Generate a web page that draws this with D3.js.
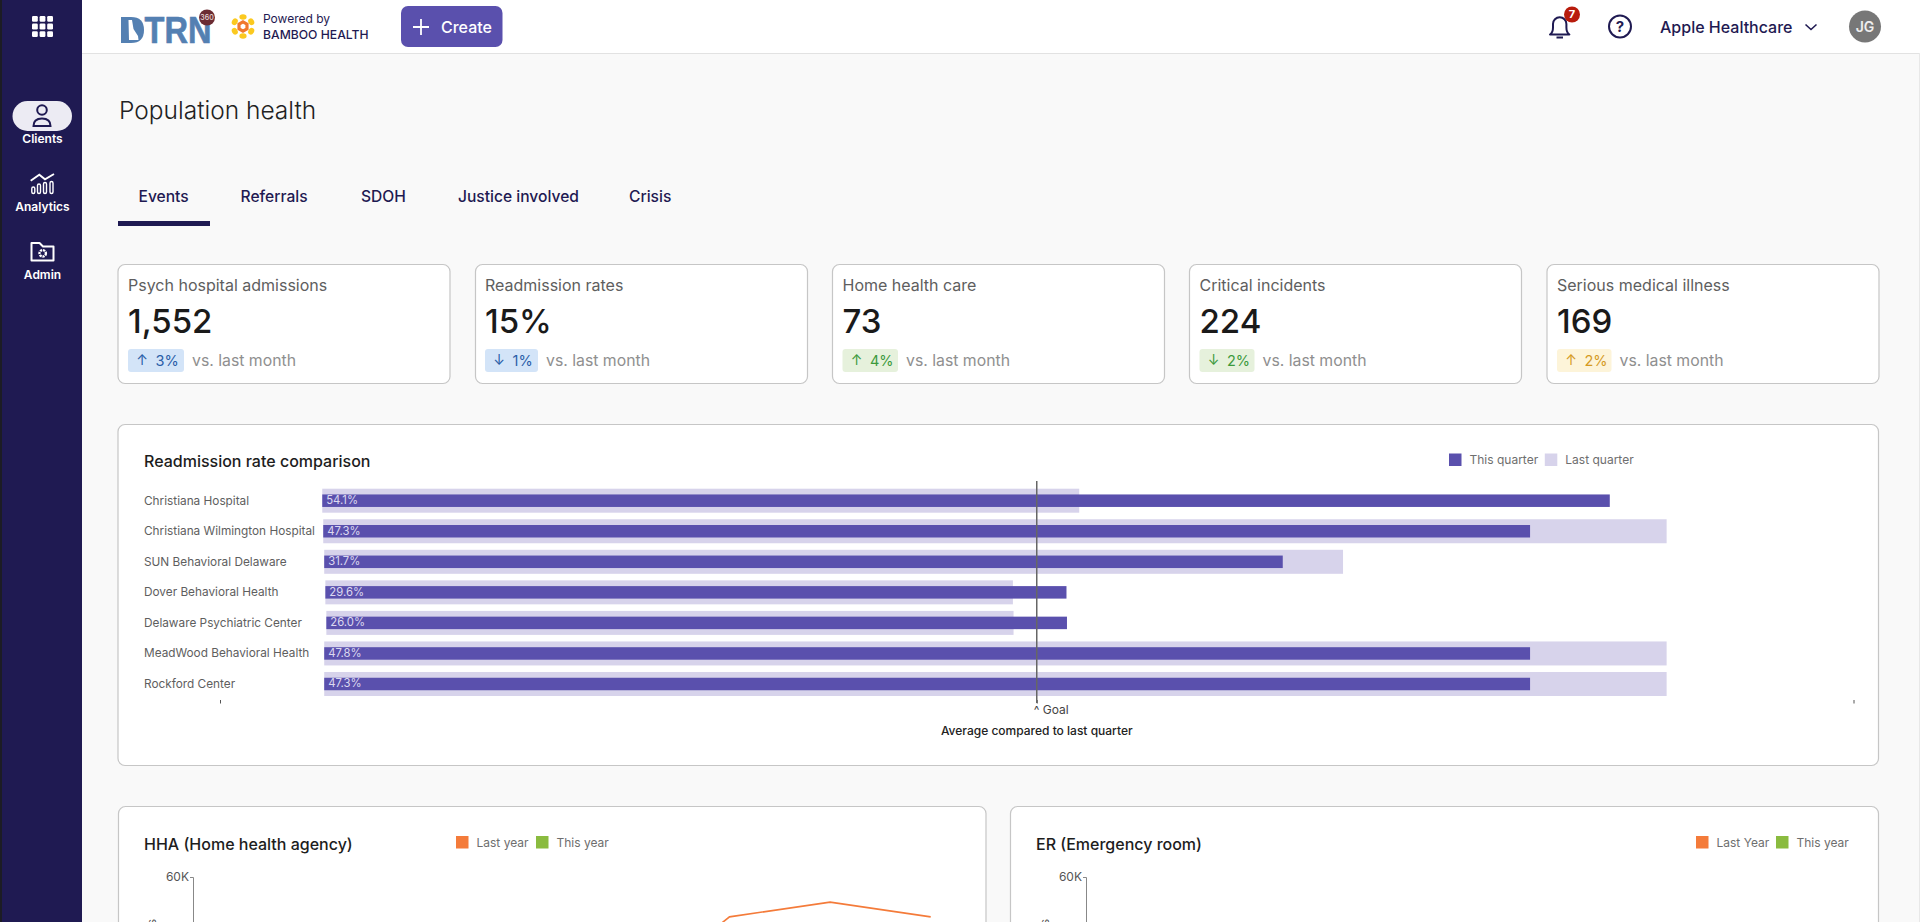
<!DOCTYPE html>
<html>
<head>
<meta charset="utf-8">
<script src="https://cdn.jsdelivr.net/npm/d3@7"></script>
<style>
  html, body { margin: 0; padding: 0; background: #f9f9f9; overflow: hidden; }
  svg { display: block; font-family: Inter, "Noto Sans", sans-serif; }
</style>
</head>
<body>
<div id="page"></div>
<script>
// kpi cards
const kpiTitles = ['Psych hospital admissions', 'Readmission rates', 'Home health care', 'Critical incidents', 'Serious medical illness'];
const kpiValues = ['1,552', '15%', '73', '224', '169'];
const kpiArrows = ['↑', '↓', '↑', '↓', '↑'];
const kpiChanges = ['3%', '1%', '4%', '2%', '2%'];
const kpiTones = ['blue', 'blue', 'green', 'green', 'yellow'];

const tabNames = ['Events', 'Referrals', 'SDOH', 'Justice involved', 'Crisis'];
const navItems = ['Clients', 'Analytics', 'Admin'];

// readmission chart, measured on a 0-100 axis with the goal in the middle
const hospitals = ['Christiana Hospital', 'Christiana Wilmington Hospital', 'SUN Behavioral Delaware', 'Dover Behavioral Health', 'Delaware Psychiatric Center', 'MeadWood Behavioral Health', 'Rockford Center'];
const rateLabels = ['54.1%', '47.3%', '31.7%', '29.6%', '26.0%', '47.8%', '47.3%'];
const barStarts = [6.26, 6.32, 6.38, 6.45, 6.51, 6.38, 6.38];
const thisQuarter = [85.08, 80.2, 65.06, 51.82, 51.85, 80.2, 80.2];
const lastQuarter = [52.6, 88.56, 68.75, 48.54, 48.58, 88.56, 88.56];
const goalValue = 50;
const axisTicks = [0, 50, 100];

// bottom line charts, only the top of them is on screen
const months = ['Jul', 'Aug', 'Sep', 'Oct', 'Nov', 'Dec'];
const hhaLastYear = [null, null, 32300, 50800, 54200, 50800];
const yTicks = [60000];

const navy = '#1f1a52';
const purple = '#5a50ad';
const lilac = '#d7d3eb';
const orange = '#f47b3a';
const green = '#8abb3f';
const logoBlue = '#5480b2';
const tones = {
  blue: { bg: '#d3e4f8', fg: '#2a5ea8' },
  green: { bg: '#e6f1dc', fg: '#3c9a3c' },
  yellow: { bg: '#fdf4d9', fg: '#d59a1f' }
};

const svg = d3.select('#page').append('svg')
  .attr('width', 1920)
  .attr('height', 922);

svg.append('rect').attr('width', 1920).attr('height', 922).attr('fill', '#f9f9f9');

function label(g, x, y, str, size, color, weight = 400, anchor = 'start') {
  return g.append('text')
    .attr('x', x)
    .attr('y', y)
    .attr('dy', '0.35em')
    .attr('font-size', size)
    .attr('font-weight', weight)
    .attr('fill', color)
    .attr('text-anchor', anchor)
    .text(str);
}

function card(x, y, w, h) {
  svg.append('rect')
    .attr('x', x + 0.5).attr('y', y + 0.5)
    .attr('width', w).attr('height', h)
    .attr('rx', 7)
    .attr('fill', '#fff')
    .attr('stroke', '#c6c6c6')
    .attr('stroke-width', 1.2);
}

// ---- header ----
function drawHeader() {
  const g = svg.append('g');
  g.append('rect').attr('x', 82).attr('width', 1838).attr('height', 53).attr('fill', '#fff');
  g.append('line').attr('x1', 82).attr('x2', 1920).attr('y1', 53.5).attr('y2', 53.5).attr('stroke', '#e2e2e2');

  // logo: a solid D with the state cut out of it, then the rest as text
  g.append('path').attr('d', 'M121 17 H131 Q144 17 144 30 Q144 43 131 43 H121 Z').attr('fill', logoBlue);
  g.append('path').attr('d', 'M128.5 20 L132 20 L133.5 29 L138 36 L138.5 40 L129 40 Z').attr('fill', '#fff');
  g.append('text')
    .attr('x', 144.5).attr('y', 43.3)
    .attr('font-family', '"Liberation Sans", sans-serif')
    .attr('font-size', 36).attr('font-weight', 700)
    .attr('fill', logoBlue)
    .attr('stroke', logoBlue).attr('stroke-width', 0.6)
    .attr('textLength', 67).attr('lengthAdjust', 'spacingAndGlyphs')
    .text('TRN');
  g.append('circle').attr('cx', 207).attr('cy', 17.5).attr('r', 8).attr('fill', '#6b2c33');
  label(g, 207, 17.5, '360', 7, '#e8d9d9', 500, 'middle');

  // bamboo mark
  const star = g.append('g').attr('transform', 'translate(243,26.5)');
  d3.range(6).forEach(i => {
    const a = (i * 60 - 90) * Math.PI / 180;
    star.append('ellipse')
      .attr('cx', Math.cos(a) * 9.5).attr('cy', Math.sin(a) * 9.5)
      .attr('rx', 3.6).attr('ry', 2.8)
      .attr('transform', `rotate(${i * 60} ${Math.cos(a) * 9.5} ${Math.sin(a) * 9.5})`)
      .attr('fill', '#fbc91f');
  });
  star.append('path')
    .attr('d', d3.range(6).map(i => {
      const a = (i * 60 - 90) * Math.PI / 180;
      return (i ? 'L' : 'M') + Math.cos(a) * 4.6 + ' ' + Math.sin(a) * 4.6;
    }).join(' ') + 'Z')
    .attr('fill', 'none').attr('stroke', '#f0782e').attr('stroke-width', 3.2);

  label(g, 263, 18.5, 'Powered by', 12, navy);
  label(g, 263, 34.5, 'BAMBOO HEALTH', 12.2, navy, 500);

  // create button
  g.append('rect').attr('x', 401).attr('y', 6).attr('width', 101.5).attr('height', 41).attr('rx', 7).attr('fill', purple);
  g.append('path').attr('d', 'M421 19V35M413 27H429').attr('stroke', '#fff').attr('stroke-width', 1.8);
  label(g, 441, 27, 'Create', 16, '#fff', 500);

  // bell + badge
  g.append('path')
    .attr('d', 'M1550 34.5 q3 -2 3 -7 v-3.5 a6.7 6.7 0 0 1 13.4 0 v3.5 q0 5 3 7 Z M1556.5 37.5 h6.5')
    .attr('fill', 'none').attr('stroke', navy).attr('stroke-width', 2).attr('stroke-linejoin', 'round');
  g.append('circle').attr('cx', 1572).attr('cy', 14.5).attr('r', 8).attr('fill', '#b81c0c');
  label(g, 1572, 14.5, '7', 11, '#fff', 700, 'middle');

  // help
  g.append('circle').attr('cx', 1620).attr('cy', 26.5).attr('r', 11).attr('fill', 'none').attr('stroke', navy).attr('stroke-width', 2);
  label(g, 1620, 26.5, '?', 15, navy, 700, 'middle');

  label(g, 1660, 27, 'Apple Healthcare', 16, navy, 500);
  g.append('path').attr('d', 'M1805.5 24.5l5.5 5 5.5-5').attr('fill', 'none').attr('stroke', navy).attr('stroke-width', 1.6);
  g.append('circle').attr('cx', 1865).attr('cy', 26.5).attr('r', 16).attr('fill', '#777');
  label(g, 1865, 27, 'JG', 14, '#eee', 600, 'middle');
}

// ---- left rail ----
function drawRail() {
  const g = svg.append('g');
  g.append('rect').attr('width', 82).attr('height', 922).attr('fill', navy);
  g.append('rect').attr('width', 2).attr('height', 922).attr('fill', '#1c1c24');

  // app grid
  d3.range(3).forEach(r => d3.range(3).forEach(c => {
    g.append('rect')
      .attr('x', 32 + c * 7.6).attr('y', 16 + r * 7.6)
      .attr('width', 5.8).attr('height', 5.8).attr('rx', 1.2)
      .attr('fill', '#fff');
  }));

  g.append('rect').attr('x', 12.5).attr('y', 101).attr('width', 59.5).attr('height', 30).attr('rx', 15).attr('fill', '#ecebf3');
  g.append('circle').attr('cx', 42).attr('cy', 110).attr('r', 4.8).attr('fill', 'none').attr('stroke', navy).attr('stroke-width', 2);
  g.append('path').attr('d', 'M33.5 126 q0 -7.5 8.5 -7.5 t8.5 7.5 Z').attr('fill', 'none').attr('stroke', navy).attr('stroke-width', 2);

  // analytics glyph
  g.append('path').attr('d', 'M30.7 180.7l8.6-6 5.7 4.6 9-5.3').attr('fill', 'none').attr('stroke', '#fff').attr('stroke-width', 1.9);
  [[33.3, 187], [39, 184], [45, 182.5], [51.5, 181.5]].forEach(([x, top]) => {
    g.append('rect').attr('x', x - 1.5).attr('y', top).attr('width', 3).attr('height', 193.5 - top).attr('rx', 1.5)
      .attr('fill', 'none').attr('stroke', '#fff').attr('stroke-width', 1.4);
  });

  // admin folder with gear
  g.append('path').attr('d', 'M31.5 243 h8 l3.5 3.5 h10.5 v14 h-22 Z').attr('fill', 'none').attr('stroke', '#fff').attr('stroke-width', 2).attr('stroke-linejoin', 'round');
  g.append('circle').attr('cx', 42.7).attr('cy', 253.3).attr('r', 3.2).attr('fill', 'none').attr('stroke', '#fff').attr('stroke-width', 2.4).attr('stroke-dasharray', '2.2 0.8');
  g.append('circle').attr('cx', 42.7).attr('cy', 253.3).attr('r', 1).attr('fill', navy);

  const navY = [139, 207, 274.5];
  navItems.forEach((n, i) => label(g, 42.5, navY[i], n, 12, '#fff', 600, 'middle'));
}

function drawTitle() {
  const g = svg.append('g');
  label(g, 119, 110, 'Population health', 24.5, '#222', 300);
  const tabX = [138.5, 240.5, 361, 458, 629];
  tabNames.forEach((t, i) => label(g, tabX[i], 196.5, t, 15.6, navy, 500));
  g.append('rect').attr('x', 118).attr('y', 221).attr('width', 92).attr('height', 5).attr('fill', navy);
}

function drawKpis() {
  const cardX = [117.5, 475, 832, 1189, 1546.5];
  const badgeX = [128, 485, 842.5, 1199.5, 1557];
  const badgeW = [56, 53, 55.5, 55, 54.5];
  kpiTitles.forEach((t, i) => {
    card(cardX[i], 264, 332, 119);
    const g = svg.append('g');
    const tone = tones[kpiTones[i]];
    label(g, badgeX[i], 285, t, 16, '#5e5e5e');
    label(g, badgeX[i], 321, kpiValues[i], 33, '#1a1a1a', 550);
    g.append('rect').attr('x', badgeX[i]).attr('y', 349).attr('width', badgeW[i]).attr('height', 23).attr('rx', 3).attr('fill', tone.bg);
    label(g, badgeX[i] + 14, 360.5, kpiArrows[i], 14, tone.fg, 400, 'middle');
    label(g, badgeX[i] + 27.5, 360.5, kpiChanges[i], 14.5, tone.fg);
    label(g, badgeX[i] + badgeW[i] + 8, 360.5, 'vs. last month', 15.8, '#8f8f8f');
  });
}

function legendItem(g, x, y, color, text) {
  g.append('rect').attr('x', x).attr('y', y).attr('width', 12.5).attr('height', 12.5).attr('fill', color);
  label(g, x + 20.5, y + 6.5, text, 12, '#6e6e6e');
}

function drawReadmissionChart() {
  card(117.5, 424, 1760.5, 341);
  const g = svg.append('g');
  label(g, 144, 461.5, 'Readmission rate comparison', 16, '#1d1d1d', 500);
  legendItem(g, 1449, 453.5, purple, 'This quarter');
  legendItem(g, 1544.8, 453.5, lilac, 'Last quarter');

  const x = d3.scaleLinear().domain([0, 100]).range([220, 1853.5]);
  const y = d3.scalePoint().domain(hospitals).range([500.7, 684]);
  const lastH = 24;
  const thisH = 12.5;

  g.append('g').selectAll('rect')
    .data(hospitals)
    .join('rect')
    .attr('x', (d, i) => x(barStarts[i]))
    .attr('y', d => y(d) - lastH / 2)
    .attr('width', (d, i) => x(lastQuarter[i]) - x(barStarts[i]))
    .attr('height', lastH)
    .attr('fill', lilac);

  g.append('g').selectAll('rect')
    .data(hospitals)
    .join('rect')
    .attr('x', (d, i) => x(barStarts[i]))
    .attr('y', d => y(d) - thisH / 2)
    .attr('width', (d, i) => x(thisQuarter[i]) - x(barStarts[i]))
    .attr('height', thisH)
    .attr('fill', purple);

  g.append('g').selectAll('text')
    .data(hospitals)
    .join('text')
    .attr('x', 144)
    .attr('y', d => y(d))
    .attr('dy', '0.33em')
    .attr('font-size', 11.8)
    .attr('fill', '#5e5e5e')
    .text(d => d);

  g.append('g').selectAll('text')
    .data(rateLabels)
    .join('text')
    .attr('x', (d, i) => x(barStarts[i]) + 4)
    .attr('y', (d, i) => y(hospitals[i]))
    .attr('dy', '0.3em')
    .attr('font-size', 11.3)
    .attr('fill', '#dcd9f0')
    .text(d => d);

  const axis = d3.axisBottom(x).tickValues(axisTicks).tickSize(3.5).tickFormat('');
  g.append('g')
    .attr('transform', 'translate(0,700)')
    .call(axis)
    .call(a => a.select('.domain').remove())
    .call(a => a.selectAll('.tick line').attr('stroke', '#555'));

  g.append('line')
    .attr('x1', x(goalValue)).attr('x2', x(goalValue))
    .attr('y1', 481).attr('y2', 703)
    .attr('stroke', '#666').attr('stroke-width', 1.5);

  label(g, x(goalValue) - 3, 710, '^ Goal', 12, '#444');
  label(g, x(goalValue), 731, 'Average compared to last quarter', 12, '#222', 500, 'middle');
}

function drawLineCard(cx, cw, title, legendX, firstLegend, axisX, series) {
  card(cx, 806, cw, 140);
  const g = svg.append('g');
  label(g, cx + 26, 844, title, 16, '#1d1d1d', 500);
  legendItem(g, legendX, 836, orange, firstLegend);
  legendItem(g, legendX + 80, 836, green, 'This year');

  const y = d3.scaleLinear().domain([0, 60000]).range([1137, 877]);
  const axis = d3.axisLeft(y).tickValues(yTicks).tickSize(3).tickPadding(1).tickFormat(d => d / 1000 + 'K');
  g.append('g')
    .attr('transform', `translate(${axisX},0)`)
    .call(axis)
    .call(a => a.select('.domain').attr('stroke', '#888'))
    .call(a => a.selectAll('.tick line').attr('stroke', '#888'))
    .call(a => a.selectAll('text').attr('font-size', 12).attr('fill', '#555').attr('font-family', 'Inter'));

  // axis title, just its last letter reaches into the page
  g.append('text')
    .attr('transform', `translate(${axisX - 37},919) rotate(-90)`)
    .attr('text-anchor', 'end')
    .attr('font-size', 12)
    .attr('fill', '#555')
    .text('Events');

  if (series) {
    const x = d3.scalePoint().domain(months).range([427.7, 930.7]);
    const line = d3.line()
      .defined(d => d != null)
      .x((d, i) => x(months[i]))
      .y(d => y(d));
    g.append('path')
      .attr('d', line(series))
      .attr('fill', 'none')
      .attr('stroke', orange)
      .attr('stroke-width', 1.6);
  }
}

drawRail();
drawHeader();
drawTitle();
drawKpis();
drawReadmissionChart();
drawLineCard(118, 867.5, 'HHA (Home health agency)', 456, 'Last year', 193, hhaLastYear);
drawLineCard(1010, 868, 'ER (Emergency room)', 1696, 'Last Year', 1086, null);

svg.append('line').attr('x1', 1919.5).attr('x2', 1919.5).attr('y1', 53).attr('y2', 922).attr('stroke', '#e8e8e8');
</script>
</body>
</html>
